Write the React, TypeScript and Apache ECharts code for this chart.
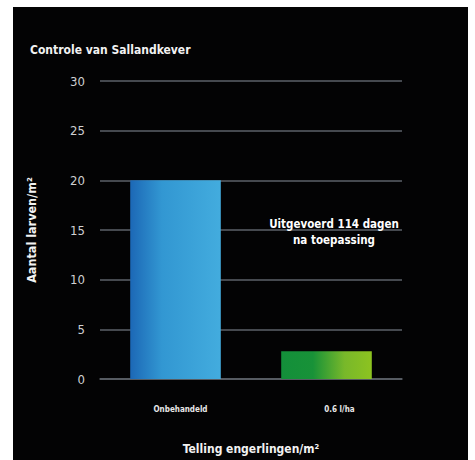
import React, { useEffect, useRef } from "react";
import * as echarts from "echarts";

const categories = ["Onbehandeld", "0.6 l/ha"];
const values = [20, 2.8];
const yTicks = { min: 0, max: 30, interval: 5 };
const titleText = "Controle van Sallandkever";
const yName = "Aantal larven/m²";
const xName = "Telling engerlingen/m²";
const noteLines = ["Uitgevoerd 114 dagen", "na toepassing"];

const FONT = "'DejaVu Sans Condensed', 'Liberation Sans Narrow', 'DejaVu Sans', sans-serif";

export default function App() {
  const ref = useRef<HTMLDivElement>(null);
  useEffect(() => {
    const chart = echarts.init(ref.current!, undefined, { renderer: "svg" });
    const blue = new echarts.graphic.LinearGradient(0, 0, 1, 0, [
      { offset: 0, color: "#1c68b6" },
      { offset: 0.35, color: "#3297d2" },
      { offset: 1, color: "#43acde" },
    ]);
    const green = new echarts.graphic.LinearGradient(0, 0, 1, 0, [
      { offset: 0, color: "#138f3a" },
      { offset: 0.35, color: "#189238" },
      { offset: 0.7, color: "#78b82a" },
      { offset: 1, color: "#8dc320" },
    ]);
    const colors = [blue, green];
    const labelPads = [10, 26];
    chart.setOption({
      animation: false,
      backgroundColor: "#ffffff",
      title: {
        text: titleText,
        left: 25,
        top: 39,
        textStyle: { color: "#f2f2f2", fontSize: 12, fontWeight: "bold", fontFamily: FONT },
      },
      graphic: [
        { type: "rect", z: -10, shape: { x: 13, y: 7, width: 455, height: 453 }, style: { fill: "#030304" } },
        {
          type: "text",
          z: 100,
          x: 334,
          y: 216,
          style: {
            text: noteLines.join("\n"),
            fill: "#ffffff",
            font: `bold 11.5px ${FONT}`,
            textAlign: "center",
            lineHeight: 16,
          },
        },
      ],
      grid: { left: 100, right: 73, top: 81, bottom: 75, containLabel: false },
      xAxis: {
        type: "category",
        data: categories.map((c, i) => ({ value: c, textStyle: { padding: [0, 0, 0, labelPads[i]] } })),
        axisLine: { lineStyle: { color: "#5c6269", width: 1.5 } },
        axisTick: { show: false },
        axisLabel: { color: "#e8e8e8", fontSize: 8, fontWeight: "bold", fontFamily: FONT, margin: 26 },
        name: xName,
        nameLocation: "middle",
        nameGap: 64,
        nameTextStyle: { color: "#f2f2f2", fontSize: 12, fontWeight: "bold", fontFamily: FONT },
      },
      yAxis: {
        type: "value",
        min: yTicks.min,
        max: yTicks.max,
        interval: yTicks.interval,
        axisLine: { show: false },
        axisTick: { show: false },
        axisLabel: { color: "#cfd0d2", fontSize: 13, fontFamily: FONT, margin: 15, padding: [8, 0, 0, 0] },
        splitLine: { lineStyle: { color: "#5c6269", width: 1.5 } },
        name: yName,
        nameLocation: "middle",
        nameGap: 62,
        nameRotate: 90,
        nameTextStyle: { color: "#f2f2f2", fontSize: 12.5, fontWeight: "bold", fontFamily: FONT },
      },
      series: [
        {
          type: "bar",
          barWidth: "60%",
          data: values.map((v, i) => ({ value: v, itemStyle: { color: colors[i] } })),
        },
      ],
    });
    return () => chart.dispose();
  }, []);
  return (
    <div
      ref={ref}
      style={{ position: "fixed", left: 0, top: 0, width: 475, height: 460 }}
    />
  );
}
